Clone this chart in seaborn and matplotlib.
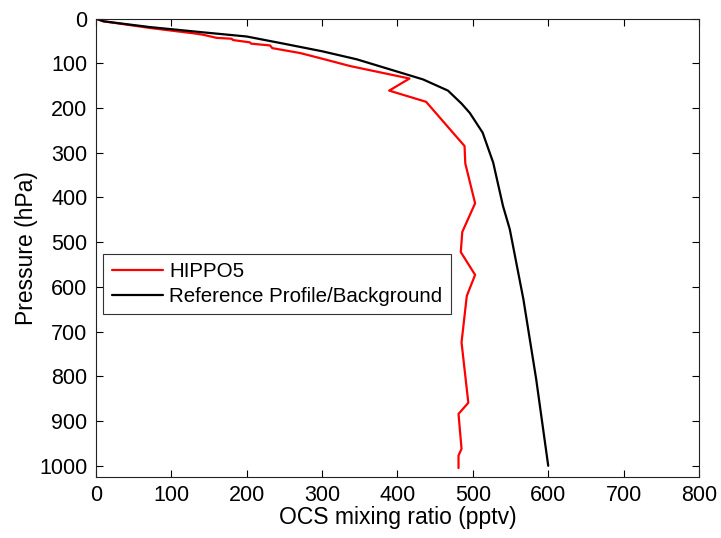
import matplotlib
matplotlib.use('Agg')
import matplotlib.pyplot as plt
import seaborn as sns
import pandas as pd

# HIPPO5 profile (pressure hPa / OCS pptv)
hippo_p = [0, 6, 21, 33, 36, 43, 45, 48, 53, 56, 60, 66, 77, 90, 106, 134, 161, 186,
           285, 324, 413, 477, 522, 573, 620, 724, 859, 884, 962, 977, 1005]
hippo_ocs = [0, 10, 72, 130, 142, 160, 180, 182, 204, 206, 231, 234, 271, 301, 337, 416,
             389, 438, 489, 490, 503, 486, 484, 503, 492, 485, 494, 481, 485, 481, 481]

# reference profile / background
ref_p = [0, 6, 19, 30, 40, 56, 73, 91, 136, 161, 190, 211, 255, 322, 419, 471, 627, 806, 1000]
ref_ocs = [0, 10, 72, 138, 200, 249, 300, 346, 434, 467, 485, 496, 513, 527, 540, 549, 567,
           584, 600]

df_h = pd.DataFrame({'p': hippo_p, 'ocs': hippo_ocs})
df_r = pd.DataFrame({'p': ref_p, 'ocs': ref_ocs})

sns.set_style('ticks')
plt.rcParams['font.family'] = ['Liberation Sans', 'DejaVu Sans']
plt.rcParams['text.color'] = 'black'
plt.rcParams['axes.labelcolor'] = 'black'
plt.rcParams['xtick.color'] = 'black'
plt.rcParams['ytick.color'] = 'black'

fig = plt.figure(figsize=(7.21, 5.38), dpi=100)
ax = fig.add_axes([0.133, 0.1134, 0.8365, 0.852])

sns.lineplot(data=df_h, x='ocs', y='p', sort=False, estimator=None, color='#ff0000',
             linewidth=1.6, label='HIPPO5', ax=ax)
sns.lineplot(data=df_r, x='ocs', y='p', sort=False, estimator=None, color='black',
             linewidth=1.6, label='Reference Profile/Background', ax=ax)

ax.set_xlim(0, 800)
ax.set_ylim(1025, 0)
ax.set_xticks(range(0, 801, 100))
ax.set_yticks(range(0, 1001, 100))
ax.tick_params(direction='in', top=True, right=True, labelsize=15.5, length=5, width=0.8,
               pad=6)
for s in ax.spines.values():
    s.set_linewidth(0.8)
    s.set_color('#222222')
ax.set_xlabel('OCS mixing ratio (pptv)', fontsize=16.5, labelpad=0)
ax.set_ylabel('Pressure (hPa)', fontsize=16.5, labelpad=1)

leg = ax.legend(loc='upper left', bbox_to_anchor=(0.0125, 0.487), fontsize=14.8,
                fancybox=False, framealpha=1, edgecolor='#333333', borderpad=0.4,
                handlelength=2.5, labelspacing=0.3, handletextpad=0.3, borderaxespad=0)
leg.get_frame().set_linewidth(0.8)

fig.savefig('out.png', dpi=100)
